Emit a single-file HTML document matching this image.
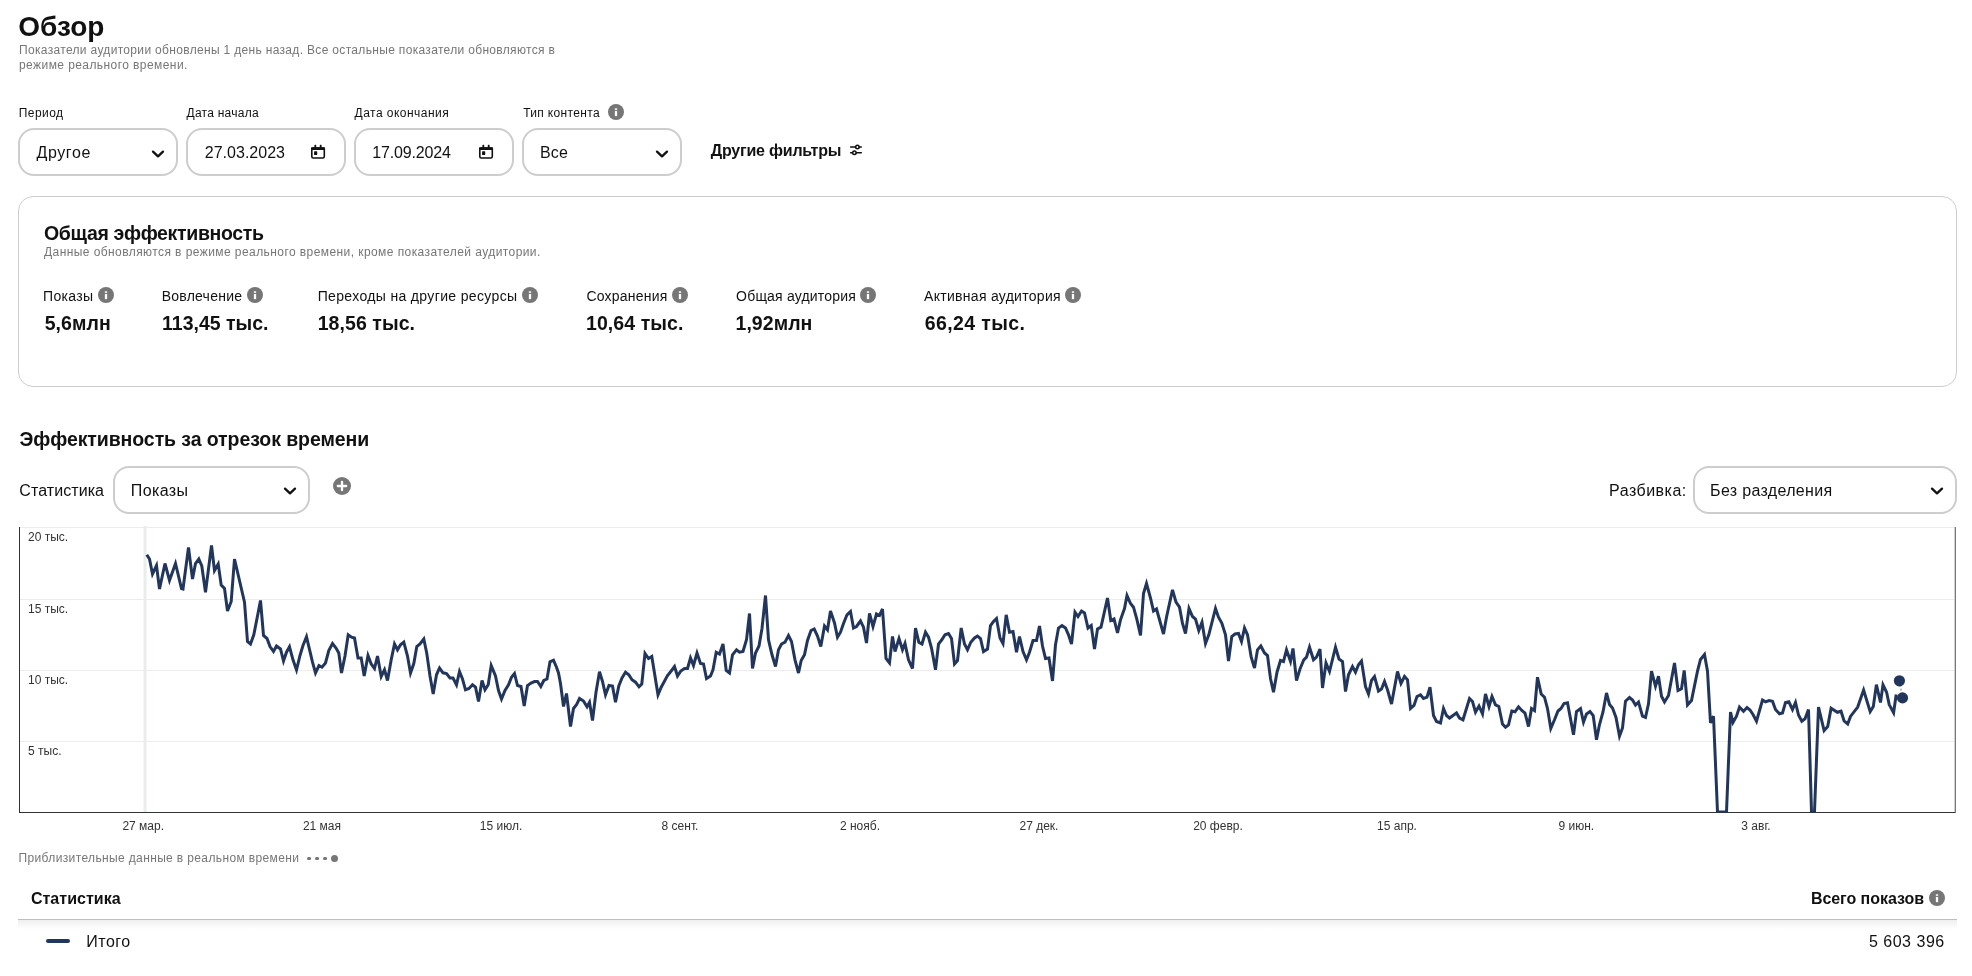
<!DOCTYPE html>
<html lang="ru">
<head>
<meta charset="utf-8">
<title>Обзор</title>
<style>
html,body{margin:0;padding:0;background:#fff;}
body{width:1972px;height:976px;position:relative;overflow:hidden;font-family:"Liberation Sans", sans-serif;color:#111;}
#root{position:absolute;left:0;top:0;width:1972px;height:976px;will-change:transform;}
.abs{position:absolute;}
.t{position:absolute;white-space:nowrap;line-height:20px;}
.box{position:absolute;box-sizing:border-box;height:48px;border:2px solid #cdcdcd;border-radius:16px;background:#fff;}
.card{position:absolute;box-sizing:border-box;left:18px;top:196px;width:1939px;height:191px;border:1px solid #cdcdcd;border-radius:15px;}
</style>
</head>
<body>
<div id="root">
<div class="box" style="left:18px;top:128px;width:160px"></div>
<div class="box" style="left:186px;top:128px;width:160px"></div>
<div class="box" style="left:354px;top:128px;width:160px"></div>
<div class="box" style="left:522px;top:128px;width:160px"></div>
<div class="card"></div>
<div class="box" style="left:113px;top:466px;width:197px"></div>
<div class="box" style="left:1693px;top:466px;width:264px"></div>
<svg class="abs" style="left:0;top:520px" width="1972" height="320" viewBox="0 520 1972 320">
<defs><clipPath id="cp"><rect x="20" y="520" width="1935" height="292.6"/></clipPath></defs>
<rect x="19" y="527" width="1937" height="1" fill="#ececec"/>
<rect x="20" y="599" width="1935" height="1" fill="#ececec"/>
<rect x="20" y="670" width="1935" height="1" fill="#ececec"/>
<rect x="20" y="741" width="1935" height="1" fill="#ececec"/>
<rect x="143.6" y="526" width="3" height="286" fill="#e8eeeb"/>
<rect x="19" y="527" width="1" height="286" fill="#333"/>
<rect x="19" y="812" width="1937" height="1" fill="#333"/>
<rect x="1954" y="527" width="1" height="285" fill="#cfcfcf"/>
<rect x="1955" y="527" width="1" height="286" fill="#7a7a7a"/>
<g font-family="Liberation Sans, sans-serif" font-size="12" fill="#333">
<text x="28" y="541">20 тыс.</text>
<text x="28" y="613">15 тыс.</text>
<text x="28" y="684">10 тыс.</text>
<text x="28" y="755">5 тыс.</text>
<text x="143.2" y="830" text-anchor="middle">27 мар.</text>
<text x="322" y="830" text-anchor="middle">21 мая</text>
<text x="501" y="830" text-anchor="middle">15 июл.</text>
<text x="680" y="830" text-anchor="middle">8 сент.</text>
<text x="860" y="830" text-anchor="middle">2 нояб.</text>
<text x="1039" y="830" text-anchor="middle">27 дек.</text>
<text x="1218" y="830" text-anchor="middle">20 февр.</text>
<text x="1397" y="830" text-anchor="middle">15 апр.</text>
<text x="1576.3" y="830" text-anchor="middle">9 июн.</text>
<text x="1756" y="830" text-anchor="middle">3 авг.</text>
</g>
<path clip-path="url(#cp)" d="M146.8 554.8 L149.5 559 L152.5 574 L156.5 565.5 L159.5 589 L165 563.5 L169.5 580.5 L175.5 563.5 L181.5 588.5 L183 589 L188.5 547.5 L192.5 579 L195.5 563.5 L198.8 559 L201.8 566 L205.5 592.2 L211.5 545.5 L214.5 570.5 L218.2 564 L221.2 585 L224.5 588.5 L227.5 611 L231.2 601.5 L234.5 559 L244.5 602.2 L247.5 641.5 L250.5 644 L253.8 634.8 L257.5 616 L260.5 600.5 L263.5 635.5 L267 638.5 L270 646.5 L273.5 651.5 L276.5 646 L280.5 649 L283.5 661 L286.5 652.2 L289.5 646.8 L293 659.8 L296.5 670 L300 655.5 L303 645.5 L306.5 636.8 L312.5 662.2 L315.5 673 L319 665.5 L322 667.2 L325.5 663 L328.8 650.5 L332.5 643.5 L336 648 L338.8 653 L341.5 673 L345 656 L348.2 634.8 L351.5 637.2 L354.5 638 L358 658 L361.2 658 L364.2 676 L368 655.5 L371.2 664 L374.5 668.5 L377.5 656 L381.2 676.5 L384.5 669.8 L387.5 680.5 L391.2 659.8 L394.5 644 L397.5 649.8 L400.5 644.8 L403.8 642.2 L407.5 656 L410.5 673 L413.8 663.5 L416.8 646.5 L420 644 L423.8 639 L426.8 653.5 L430 676 L433.2 694 L436.5 674.8 L439.5 668 L443 672.8 L446.5 673.5 L450 678 L453 678 L456.5 684.8 L459.5 671.5 L462.5 679 L465.5 689.8 L469 688.5 L472.5 684.8 L475.5 687.2 L478.5 701.5 L482 680.5 L485 689.8 L488.2 684.8 L491.2 665.5 L495.5 676 L498.5 690.5 L501.5 699 L505 690.5 L508.5 684.8 L511.5 677.2 L514.5 673.5 L517.5 685.5 L521 686.5 L524.2 706 L527.5 685.5 L531 683 L534.5 681.5 L537.5 681.5 L540.8 686.5 L543.8 680.5 L547 679 L550 661.8 L553.5 660.2 L556.5 667.2 L558.5 673 L560.5 683.5 L563.5 706.5 L566.5 693.5 L570.5 726.5 L573.5 708.5 L576.5 704.8 L579.5 698.5 L583.5 701 L587 706.8 L589.5 702.2 L592.5 720.5 L596 692.2 L599.5 671.8 L602.5 681.5 L605.5 694.8 L609 685.5 L612.5 686 L615.5 702.2 L618.8 686 L622 678 L625.5 672.2 L628.8 674.8 L632 679.8 L635.5 682.2 L639 686.8 L641.8 684 L645 653.5 L648.5 658.5 L651.8 656.5 L658 694.8 L661.2 687.2 L667.5 675.5 L671.2 671 L674.5 666.5 L677.5 676 L680.8 671 L684.5 668.5 L687.5 668.5 L690.5 658 L693.5 665.5 L697 653 L700.5 663.5 L703.5 664 L706.5 678.5 L710.5 676 L713 669.8 L716.2 652.2 L719.5 654 L723 644 L726.2 670.5 L729.5 673 L732.5 654.8 L736.5 649.8 L739.5 652.2 L743 651.5 L746.5 639.8 L749.5 613.5 L752.5 668.5 L755.5 653 L759 646 L762 628.5 L765.5 595.5 L768.5 639.8 L772 654.8 L775.5 666.5 L778.5 649.8 L781.5 644 L785 642.2 L788.5 635.5 L791.5 641.5 L795 659.8 L798.5 673 L801.2 660.5 L804.5 654.8 L807.5 640.5 L811 630.5 L814.2 629 L817.5 636 L820.8 646.5 L824.5 626 L827.5 629.8 L830.5 611 L834.5 623 L837.5 637.2 L840.5 632.2 L843.5 623.5 L847 614.8 L850.5 611.5 L853.5 628 L856.5 626.5 L860.5 621 L863.5 627.2 L866.5 643 L869.5 613.5 L873 626.5 L876.5 614 L879.5 615.5 L882.5 609 L886 658.5 L889.5 663 L892.5 636.5 L895 651.5 L899 638.5 L902.5 649.8 L905 643.5 L908.5 659.8 L912.5 668.5 L915.5 628 L918.8 642.2 L922 644 L925.5 632.2 L928.5 637.2 L931.5 648 L935.5 669.8 L938.5 644 L941.8 639.8 L945 634.8 L948.5 633.5 L951.5 638.5 L954.5 664 L957.5 660.5 L961.2 628 L964.5 644 L967.5 649.8 L970.8 642.2 L974.5 638 L977.5 636 L980.5 638.5 L983.5 651.5 L987.5 649 L990.5 625.5 L993.5 621.5 L996.5 618.5 L1000 638 L1003 643.5 L1006.2 614.8 L1009.5 632.2 L1013 631.5 L1016.5 652.2 L1019.5 636.5 L1023 651.5 L1026.5 659.8 L1029.5 652.2 L1033 640.5 L1036.5 640.5 L1039.5 626 L1042.5 646 L1045.5 658.5 L1049 658 L1052.5 681 L1055.5 644.8 L1058.5 628 L1062 625.5 L1065.5 628 L1068.5 634.8 L1071.5 644 L1075 612.2 L1078 616.5 L1081.5 611 L1084.5 613 L1088 628 L1091.2 625.5 L1094.5 649 L1097.5 629 L1101 627.2 L1107.5 598 L1110.8 620.5 L1114 619 L1117.5 633 L1120.5 619.8 L1124.5 608.5 L1127 595.5 L1130.5 603.5 L1133.5 607.2 L1137 619.8 L1140.5 635.5 L1143.5 593.5 L1146.5 583.5 L1150.5 598 L1153.5 611 L1156.5 609 L1163.5 634 L1166.5 617.2 L1172.5 589.8 L1176 602.2 L1179.5 607.2 L1182.5 623.5 L1185.5 633.5 L1189 608.5 L1192.5 616.5 L1195.5 619 L1198.8 630.5 L1202 622.2 L1205.5 643.5 L1208.8 634.8 L1215.5 608.5 L1218.5 617.2 L1221.8 623 L1225.5 634.8 L1228.5 661 L1231.8 636.5 L1235 634 L1238.5 633.5 L1241.5 641.5 L1244.5 628 L1247.5 634.8 L1251.2 657.2 L1254.5 668 L1257.5 649.8 L1260.8 646 L1264.5 653 L1267.5 655.5 L1270.5 678.5 L1273.5 692.2 L1277 672.2 L1280.5 660.5 L1283.5 661.5 L1286.5 649.8 L1290.5 661.5 L1293 648.5 L1296.5 680.5 L1300 669 L1303.8 659.8 L1306.5 657.2 L1309.5 647.2 L1313.5 659.8 L1316.5 657.2 L1320 649 L1322.5 688 L1326 663 L1329.5 671.5 L1335.5 647.2 L1339 659 L1342.5 661.5 L1345.5 691.5 L1348.5 674.8 L1352.5 666.5 L1355.5 672.2 L1358.5 664.8 L1361.5 661 L1365.5 686.5 L1368.5 694 L1371.5 680.5 L1374.5 676.5 L1378.5 691 L1381.5 689 L1384.5 681.5 L1387.5 689.8 L1391.5 704 L1397.5 671.5 L1401 683.5 L1404.5 676.5 L1407.5 679.8 L1410.5 708.5 L1414 705.5 L1417 696.5 L1420.5 694.8 L1423.5 698.5 L1427 697.2 L1430 687.2 L1433.5 715.5 L1436.5 721.5 L1440.5 723 L1443.5 708.5 L1446.5 715.5 L1449.5 718 L1453 715.5 L1456.5 713 L1459.5 718 L1463 719.8 L1469.5 698.5 L1472.5 701.5 L1475.5 712.2 L1479 706 L1482.5 714 L1485.5 694 L1489 706.5 L1492 696.5 L1495.5 704.8 L1498.8 706.5 L1502.5 724 L1505.5 727.2 L1508.5 724.8 L1511.8 711 L1515 711.8 L1518.5 706.8 L1521.8 710.5 L1525 713 L1528.5 726.5 L1531.5 708.5 L1534.5 710.5 L1537.5 677.2 L1541.2 694 L1544.5 697.2 L1547.5 708.5 L1550.8 728.5 L1554.5 719.8 L1558 711 L1561 708.5 L1564 703.5 L1567.5 702.8 L1573.5 734.8 L1576.5 711.5 L1580.5 708.5 L1583.5 722.2 L1586.5 714 L1590 711.5 L1593.2 715.5 L1596.5 739.8 L1599.5 724.5 L1603 712 L1606.5 693 L1609.5 704.5 L1612.5 708 L1616 717.5 L1619.5 736.2 L1622.5 728 L1625.5 701.2 L1629.5 697.5 L1632.5 700 L1635.5 705 L1638.5 702 L1642.5 716.2 L1645.5 717.5 L1648.5 703.8 L1651.5 671.2 L1655.5 686.2 L1658.5 676.2 L1661.5 696.2 L1664.5 702 L1668.5 695.5 L1674.5 663 L1678 690.5 L1681.5 688.8 L1684.2 670.5 L1687.5 705 L1691.5 700.5 L1697.5 671.2 L1700.5 659.5 L1704.5 654.5 L1707.5 671.2 L1710.5 723 L1713.5 716.2 L1717.5 812 L1726.5 812 L1730.5 712 L1733 722.5 L1736.5 716.2 L1739.5 707 L1743.5 711.2 L1747 707.5 L1750 710 L1753 714.5 L1756.5 721.2 L1762.5 700 L1765.5 701.8 L1769 700.5 L1772.5 701.2 L1775.5 709.5 L1779.5 713.8 L1782.5 713 L1785.5 702.5 L1788.8 701.8 L1792.5 709.5 L1795.5 702.5 L1798.5 715 L1801.8 721.2 L1805 718.8 L1808.5 709.5 L1811.5 812 L1814.5 812 L1818.5 707 L1824.1 730.7 L1827.7 726.6 L1831.1 708.2 L1837.4 712.3 L1841 711.2 L1844.1 721 L1847.7 724 L1850.5 716.4 L1857.7 707.1 L1863.6 690 L1870.2 711.7 L1873.3 706.6 L1876.4 684.6 L1880.5 702.5 L1883 684.8 L1886.6 692.3 L1889.2 704.6 L1893.6 712.8 L1896.2 694.5" fill="none" stroke="#22365c" stroke-width="3" stroke-linejoin="miter" stroke-miterlimit="4" stroke-linecap="butt"/>
<path d="M1899.4 680.8 L1902.5 697.9" stroke="#b4bdcf" stroke-width="2" stroke-dasharray="2 2" fill="none"/>
<circle cx="1899.4" cy="680.8" r="5.6" fill="#22365c"/>
<circle cx="1902.5" cy="697.9" r="5.6" fill="#22365c"/>
</svg>
<div class="abs" style="left:18px;top:919px;width:1939px;height:1px;background:#bfbfbf"></div>
<div class="abs" style="left:18px;top:920px;width:1939px;height:9px;background:linear-gradient(#efefef,#fff)"></div>
<div class="abs" style="left:46px;top:939px;width:24px;height:4px;border-radius:2px;background:#22365c"></div>
<div class="t" style="left:18.30px;top:17px;font-size:28px;font-weight:bold;color:#111;letter-spacing:-0.007px">Обзор</div>
<div class="t" style="left:19.00px;top:40px;font-size:12px;font-weight:normal;color:#767676;letter-spacing:0.326px">Показатели аудитории обновлены 1 день назад. Все остальные показатели обновляются в</div>
<div class="t" style="left:19.00px;top:55px;font-size:12px;font-weight:normal;color:#767676;letter-spacing:0.422px">режиме реального времени.</div>
<div class="t" style="left:18.80px;top:103px;font-size:12px;font-weight:normal;color:#111;letter-spacing:0.423px">Период</div>
<div class="t" style="left:186.50px;top:103px;font-size:12px;font-weight:normal;color:#111;letter-spacing:0.253px">Дата начала</div>
<div class="t" style="left:354.60px;top:103px;font-size:12px;font-weight:normal;color:#111;letter-spacing:0.468px">Дата окончания</div>
<div class="t" style="left:523.20px;top:103px;font-size:12px;font-weight:normal;color:#111;letter-spacing:0.332px">Тип контента</div>
<div class="t" style="left:36.50px;top:143px;font-size:16px;font-weight:normal;color:#111;letter-spacing:0.593px">Другое</div>
<div class="t" style="left:204.80px;top:143px;font-size:16px;font-weight:normal;color:#111;letter-spacing:0.013px">27.03.2023</div>
<div class="t" style="left:372.20px;top:143px;font-size:16px;font-weight:normal;color:#111;letter-spacing:-0.153px">17.09.2024</div>
<div class="t" style="left:540.10px;top:143px;font-size:16px;font-weight:normal;color:#111;letter-spacing:0.064px">Все</div>
<div class="t" style="left:710.70px;top:141px;font-size:16px;font-weight:bold;color:#111;letter-spacing:-0.203px">Другие фильтры</div>
<div class="t" style="left:44.00px;top:223px;font-size:19.5px;font-weight:bold;color:#111;letter-spacing:-0.341px">Общая эффективность</div>
<div class="t" style="left:44.00px;top:242px;font-size:12px;font-weight:normal;color:#767676;letter-spacing:0.424px">Данные обновляются в режиме реального времени, кроме показателей аудитории.</div>
<div class="t" style="left:43.00px;top:286px;font-size:14px;font-weight:normal;color:#111;letter-spacing:0.354px">Показы</div>
<div class="t" style="left:161.70px;top:286px;font-size:14px;font-weight:normal;color:#111;letter-spacing:0.238px">Вовлечение</div>
<div class="t" style="left:317.70px;top:286px;font-size:14px;font-weight:normal;color:#111;letter-spacing:0.349px">Переходы на другие ресурсы</div>
<div class="t" style="left:586.40px;top:286px;font-size:14px;font-weight:normal;color:#111;letter-spacing:0.213px">Сохранения</div>
<div class="t" style="left:736.10px;top:286px;font-size:14px;font-weight:normal;color:#111;letter-spacing:0.187px">Общая аудитория</div>
<div class="t" style="left:924.10px;top:286px;font-size:14px;font-weight:normal;color:#111;letter-spacing:0.284px">Активная аудитория</div>
<div class="t" style="left:44.70px;top:313px;font-size:19.5px;font-weight:bold;color:#111;letter-spacing:0.076px">5,6млн</div>
<div class="t" style="left:162.10px;top:313px;font-size:19.5px;font-weight:bold;color:#111;letter-spacing:-0.003px">113,45 тыс.</div>
<div class="t" style="left:317.70px;top:313px;font-size:19.5px;font-weight:bold;color:#111;letter-spacing:0.071px">18,56 тыс.</div>
<div class="t" style="left:586.00px;top:313px;font-size:19.5px;font-weight:bold;color:#111;letter-spacing:0.082px">10,64 тыс.</div>
<div class="t" style="left:735.50px;top:313px;font-size:19.5px;font-weight:bold;color:#111;letter-spacing:0.056px">1,92млн</div>
<div class="t" style="left:924.70px;top:313px;font-size:19.5px;font-weight:bold;color:#111;letter-spacing:0.393px">66,24 тыс.</div>
<div class="t" style="left:19.40px;top:429px;font-size:19.5px;font-weight:bold;color:#111;letter-spacing:-0.083px">Эффективность за отрезок времени</div>
<div class="t" style="left:19.30px;top:481px;font-size:16px;font-weight:normal;color:#111;letter-spacing:0.074px">Статистика</div>
<div class="t" style="left:130.80px;top:481px;font-size:16px;font-weight:normal;color:#111;letter-spacing:0.399px">Показы</div>
<div class="t" style="left:1609.10px;top:481px;font-size:16px;font-weight:normal;color:#111;letter-spacing:0.479px">Разбивка:</div>
<div class="t" style="left:1710.10px;top:481px;font-size:16px;font-weight:normal;color:#111;letter-spacing:0.328px">Без разделения</div>
<div class="t" style="left:18.50px;top:848px;font-size:12px;font-weight:normal;color:#767676;letter-spacing:0.365px">Приблизительные данные в реальном времени</div>
<div class="t" style="left:30.90px;top:889px;font-size:16px;font-weight:bold;color:#111;letter-spacing:0.029px">Статистика</div>
<div class="t" style="left:1810.90px;top:889px;font-size:16px;font-weight:bold;color:#111;letter-spacing:-0.049px">Всего показов</div>
<div class="t" style="left:86.30px;top:932px;font-size:16px;font-weight:normal;color:#111;letter-spacing:0.492px">Итого</div>
<div class="t" style="left:1868.90px;top:932px;font-size:16px;font-weight:normal;color:#111;letter-spacing:0.515px">5 603 396</div>
<svg class="abs" style="left:607px;top:102.9px" width="18" height="18" viewBox="-9 -9 18 18"><circle r="8" fill="#767676"/><rect x="-1.15" y="-0.95" width="2.3" height="5.1" fill="#fff"/><rect x="-1.15" y="-3.9" width="2.3" height="2" fill="#e4e4e4"/></svg>
<svg class="abs" style="left:97px;top:286.3px" width="18" height="18" viewBox="-9 -9 18 18"><circle r="8" fill="#767676"/><rect x="-1.15" y="-0.95" width="2.3" height="5.1" fill="#fff"/><rect x="-1.15" y="-3.9" width="2.3" height="2" fill="#e4e4e4"/></svg>
<svg class="abs" style="left:246px;top:286.3px" width="18" height="18" viewBox="-9 -9 18 18"><circle r="8" fill="#767676"/><rect x="-1.15" y="-0.95" width="2.3" height="5.1" fill="#fff"/><rect x="-1.15" y="-3.9" width="2.3" height="2" fill="#e4e4e4"/></svg>
<svg class="abs" style="left:520.9px;top:286.3px" width="18" height="18" viewBox="-9 -9 18 18"><circle r="8" fill="#767676"/><rect x="-1.15" y="-0.95" width="2.3" height="5.1" fill="#fff"/><rect x="-1.15" y="-3.9" width="2.3" height="2" fill="#e4e4e4"/></svg>
<svg class="abs" style="left:671px;top:286.3px" width="18" height="18" viewBox="-9 -9 18 18"><circle r="8" fill="#767676"/><rect x="-1.15" y="-0.95" width="2.3" height="5.1" fill="#fff"/><rect x="-1.15" y="-3.9" width="2.3" height="2" fill="#e4e4e4"/></svg>
<svg class="abs" style="left:859px;top:286.3px" width="18" height="18" viewBox="-9 -9 18 18"><circle r="8" fill="#767676"/><rect x="-1.15" y="-0.95" width="2.3" height="5.1" fill="#fff"/><rect x="-1.15" y="-3.9" width="2.3" height="2" fill="#e4e4e4"/></svg>
<svg class="abs" style="left:1064px;top:286.3px" width="18" height="18" viewBox="-9 -9 18 18"><circle r="8" fill="#767676"/><rect x="-1.15" y="-0.95" width="2.3" height="5.1" fill="#fff"/><rect x="-1.15" y="-3.9" width="2.3" height="2" fill="#e4e4e4"/></svg>
<svg class="abs" style="left:1928px;top:889.1px" width="18" height="18" viewBox="-9 -9 18 18"><circle r="8" fill="#767676"/><rect x="-1.15" y="-0.95" width="2.3" height="5.1" fill="#fff"/><rect x="-1.15" y="-3.9" width="2.3" height="2" fill="#e4e4e4"/></svg>
<svg class="abs" style="left:150px;top:145.6px" width="16" height="16" viewBox="-8 -8 16 16"><path d="M-5 -2.4 L0 2.4 L5 -2.4" fill="none" stroke="#111" stroke-width="2.3" stroke-linecap="round" stroke-linejoin="round"/></svg>
<svg class="abs" style="left:654px;top:145.6px" width="16" height="16" viewBox="-8 -8 16 16"><path d="M-5 -2.4 L0 2.4 L5 -2.4" fill="none" stroke="#111" stroke-width="2.3" stroke-linecap="round" stroke-linejoin="round"/></svg>
<svg class="abs" style="left:282px;top:483.0px" width="16" height="16" viewBox="-8 -8 16 16"><path d="M-5 -2.4 L0 2.4 L5 -2.4" fill="none" stroke="#111" stroke-width="2.3" stroke-linecap="round" stroke-linejoin="round"/></svg>
<svg class="abs" style="left:1929px;top:483.0px" width="16" height="16" viewBox="-8 -8 16 16"><path d="M-5 -2.4 L0 2.4 L5 -2.4" fill="none" stroke="#111" stroke-width="2.3" stroke-linecap="round" stroke-linejoin="round"/></svg>
<svg class="abs" style="left:310px;top:144px" width="16" height="16" viewBox="310 144 16 16"><rect x="311.8" y="148" width="12.5" height="10" rx="1.4" fill="none" stroke="#111" stroke-width="1.6"/><rect x="311" y="147.2" width="14.1" height="2.7" rx="0.8" fill="#111"/><rect x="314.4" y="144.8" width="1.8" height="3" rx="0.6" fill="#111"/><rect x="319.8" y="144.8" width="1.8" height="3" rx="0.6" fill="#111"/><rect x="314.1" y="151.2" width="3.1" height="3.7" rx="0.5" fill="#111"/></svg>
<svg class="abs" style="left:478px;top:144px" width="16" height="16" viewBox="310 144 16 16"><rect x="311.8" y="148" width="12.5" height="10" rx="1.4" fill="none" stroke="#111" stroke-width="1.6"/><rect x="311" y="147.2" width="14.1" height="2.7" rx="0.8" fill="#111"/><rect x="314.4" y="144.8" width="1.8" height="3" rx="0.6" fill="#111"/><rect x="319.8" y="144.8" width="1.8" height="3" rx="0.6" fill="#111"/><rect x="314.1" y="151.2" width="3.1" height="3.7" rx="0.5" fill="#111"/></svg>
<svg class="abs" style="left:848px;top:142px" width="16" height="16" viewBox="848 142 16 16"><g fill="none" stroke="#111" stroke-width="1.5" stroke-linecap="round"><path d="M850.6 147.1 H855.6 M859.2 147.1 H861.3"/><circle cx="857.4" cy="147.1" r="1.75"/><path d="M850.6 152.8 H852.6 M856.2 152.8 H861.3"/><circle cx="854.4" cy="152.8" r="1.75"/></g></svg>
<svg class="abs" style="left:332px;top:476px" width="20" height="20" viewBox="-10 -10 20 20"><circle r="9" fill="#767676"/><path d="M-4.2 0 H4.2 M0 -4.2 V4.2" stroke="#fff" stroke-width="2.3" stroke-linecap="round"/></svg>
<svg class="abs" style="left:300px;top:850px" width="44" height="16" viewBox="300 850 44 16"><g fill="#767676"><rect x="307" y="857" width="4.1" height="3" rx="1.5"/><rect x="315" y="857" width="4.1" height="3" rx="1.5"/><rect x="323" y="857" width="4.1" height="3" rx="1.5"/><circle cx="334.5" cy="858.5" r="3.5"/></g></svg>
</div>
</body>
</html>
